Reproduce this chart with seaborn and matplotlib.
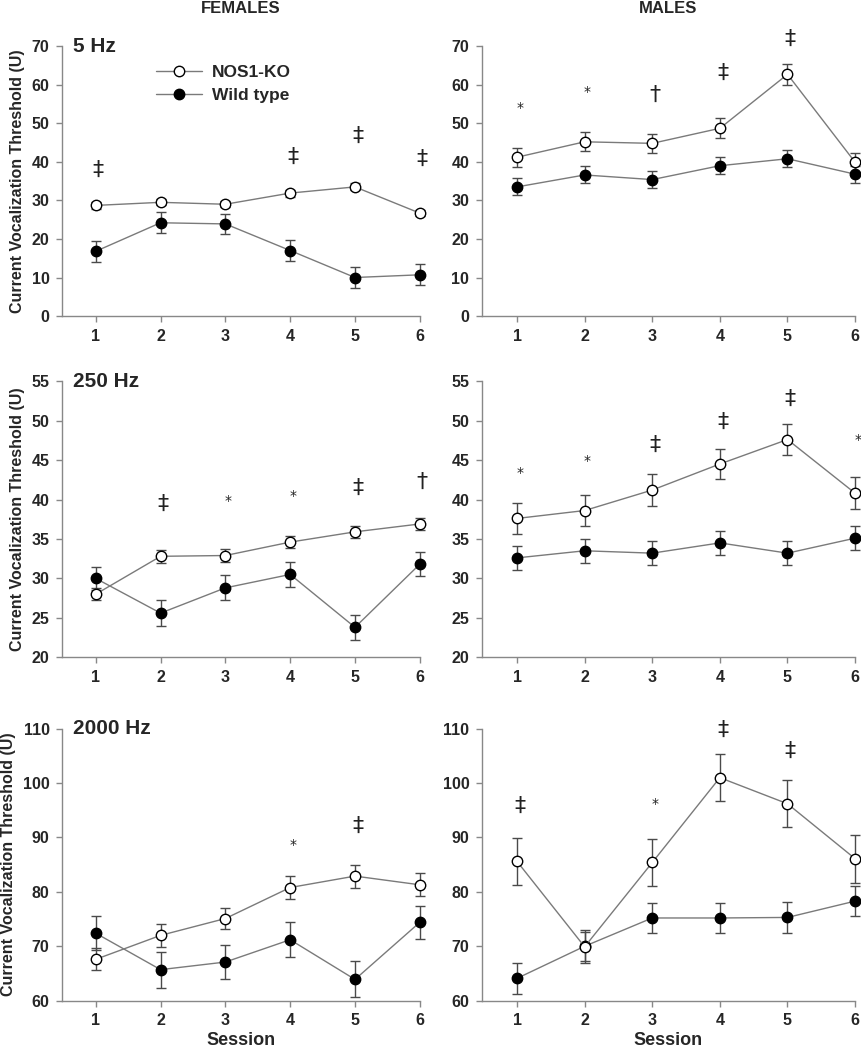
import numpy as np
import pandas as pd
import matplotlib
matplotlib.use("Agg")
import matplotlib.pyplot as plt
import seaborn as sns

# sessions
sessions = [1, 2, 3, 4, 5, 6]

# 5 Hz
f5_ko = [28.7, 29.5, 29.0, 31.9, 33.5, 26.7]
f5_ko_err = [0.9, 0.8, 0.8, 0.9, 0.9, 0.8]
f5_wt = [16.8, 24.2, 23.9, 17.0, 10.0, 10.7]
f5_wt_err = [2.7, 2.7, 2.7, 2.7, 2.7, 2.7]
f5_sig = ["‡", "", "", "‡", "‡", "‡"]
f5_sig_y = [38.0, 0, 0, 41.3, 46.7, 40.7]

m5_ko = [41.2, 45.2, 44.8, 48.7, 62.7, 39.9]
m5_ko_err = [2.5, 2.5, 2.5, 2.6, 2.7, 2.5]
m5_wt = [33.5, 36.6, 35.4, 39.0, 40.8, 36.8]
m5_wt_err = [2.2, 2.2, 2.2, 2.2, 2.2, 2.2]
m5_sig = ["*", "*", "†", "‡", "‡", ""]
m5_sig_y = [54.0, 58.0, 57.5, 63.0, 72.0, 0]

# 250 Hz
f250_ko = [28.0, 32.8, 32.9, 34.6, 35.9, 36.9]
f250_ko_err = [0.8, 0.8, 0.8, 0.8, 0.8, 0.8]
f250_wt = [30.0, 25.6, 28.8, 30.5, 23.8, 31.8]
f250_wt_err = [1.5, 1.6, 1.6, 1.6, 1.6, 1.5]
f250_sig = ["", "‡", "*", "*", "‡", "†"]
f250_sig_y = [0, 39.4, 39.8, 40.5, 41.5, 42.2]

m250_ko = [37.6, 38.6, 41.2, 44.5, 47.6, 40.8]
m250_ko_err = [2.0, 2.0, 2.0, 1.9, 2.0, 2.0]
m250_wt = [32.6, 33.5, 33.2, 34.5, 33.2, 35.1]
m250_wt_err = [1.5, 1.5, 1.5, 1.5, 1.5, 1.5]
m250_sig = ["*", "*", "‡", "‡", "‡", "*"]
m250_sig_y = [43.3, 44.9, 46.9, 49.8, 52.7, 47.6]

# 2000 Hz
f2000_ko = [67.6, 72.0, 75.1, 80.8, 82.9, 81.3]
f2000_ko_err = [2.0, 2.1, 2.0, 2.1, 2.1, 2.1]
f2000_wt = [72.4, 65.7, 67.1, 71.2, 63.9, 74.4]
f2000_wt_err = [3.1, 3.3, 3.2, 3.2, 3.3, 3.0]
f2000_sig = ["", "", "", "*", "‡", ""]
f2000_sig_y = [0, 0, 0, 88.7, 92.2, 0]

m2000_ko = [85.6, 69.9, 85.4, 101.0, 96.2, 86.1]
m2000_ko_err = [4.3, 2.7, 4.4, 4.3, 4.3, 4.4]
m2000_wt = [64.1, 70.0, 75.2, 75.2, 75.3, 78.3]
m2000_wt_err = [2.8, 3.0, 2.8, 2.8, 2.8, 2.8]
m2000_sig = ["‡", "", "*", "‡", "‡", ""]
m2000_sig_y = [95.8, 0, 96.2, 109.7, 106.0, 0]

freq_labels = ["5 Hz", "250 Hz", "2000 Hz"]
y_limits = [(0, 70), (20, 55), (60, 110)]
y_steps = [10, 5, 10]

sns.set_style("ticks")
plt.rcParams["font.family"] = ["Liberation Sans", "DejaVu Sans"]
plt.rcParams["font.weight"] = "bold"

fig = plt.figure(figsize=(8.62, 10.5), dpi=100)

rows = [
    (f5_ko, f5_ko_err, f5_wt, f5_wt_err, f5_sig, f5_sig_y,
     m5_ko, m5_ko_err, m5_wt, m5_wt_err, m5_sig, m5_sig_y),
    (f250_ko, f250_ko_err, f250_wt, f250_wt_err, f250_sig, f250_sig_y,
     m250_ko, m250_ko_err, m250_wt, m250_wt_err, m250_sig, m250_sig_y),
    (f2000_ko, f2000_ko_err, f2000_wt, f2000_wt_err, f2000_sig, f2000_sig_y,
     m2000_ko, m2000_ko_err, m2000_wt, m2000_wt_err, m2000_sig, m2000_sig_y),
]
row_bottoms = [0.699, 0.374, 0.047]
row_heights = [0.257, 0.263, 0.259]
col_lefts = [0.072, 0.559]
col_widths = [0.415, 0.433]

line_col = "#7a7a7a"
err_col = "#4a4a4a"


def draw_panel(ax, ko, ko_err, wt, wt_err, sig, sig_y, ylim, step, legend=False):
    df = pd.DataFrame({
        "session": sessions * 2,
        "value": list(ko) + list(wt),
        "err": list(ko_err) + list(wt_err),
        "group": ["NOS1-KO"] * 6 + ["Wild type"] * 6,
    })
    for grp, face in [("Wild type", "black"), ("NOS1-KO", "white")]:
        d = df[df["group"] == grp]
        ax.errorbar(d["session"], d["value"], yerr=d["err"], fmt="none",
                    ecolor=err_col, elinewidth=1, capsize=3.5, capthick=1,
                    zorder=2, clip_on=False)
        sns.lineplot(data=d, x="session", y="value", ax=ax, color=line_col,
                     linewidth=1, marker="o", markersize=7.5,
                     markerfacecolor=face, markeredgecolor="black",
                     markeredgewidth=1, label=grp, zorder=3, clip_on=False,
                     legend=False)
    # significance marks
    for s, lab, yy in zip(sessions, sig, sig_y):
        if lab:
            fs = 10 if lab == "*" else 16
            ax.text(s + 0.04, yy, lab, ha="center", va="center",
                    fontsize=fs, fontweight="normal", color="#222222",
                    clip_on=False, family=["DejaVu Sans"])
    ax.set_xlim(0.48, 6.0)
    ax.set_ylim(*ylim)
    ax.set_xticks(sessions)
    ax.set_yticks(np.arange(ylim[0], ylim[1] + 0.1, step))
    ax.tick_params(axis="both", direction="out", length=4, width=1,
                   color="#888888", labelsize=11.5, pad=5)
    for lbl in ax.get_xticklabels() + ax.get_yticklabels():
        lbl.set_fontweight("bold")
    sns.despine(ax=ax)
    for sp in ["left", "bottom"]:
        ax.spines[sp].set_color("#888888")
        ax.spines[sp].set_linewidth(1)
    ax.set_xlabel("")
    ax.set_ylabel("")
    if legend:
        handles = [
            plt.Line2D([], [], color=line_col, lw=1, marker="o", ms=7.5,
                       mfc="white", mec="black"),
            plt.Line2D([], [], color=line_col, lw=1, marker="o", ms=7.5,
                       mfc="black", mec="black"),
        ]
        ax.legend(handles, ["NOS1-KO", "Wild type"], loc="upper left",
                  bbox_to_anchor=(0.22, 0.99), frameon=False,
                  prop={"size": 12.5, "weight": "bold"}, handlelength=2.6,
                  handletextpad=0.6, labelspacing=0.45)


for r, data in enumerate(rows):
    for c in range(2):
        ax = fig.add_axes([col_lefts[c], row_bottoms[r], col_widths[c], row_heights[r]])
        part = data[c * 6:(c + 1) * 6]
        draw_panel(ax, *part, y_limits[r], y_steps[r], legend=(r == 0 and c == 0))
        if c == 0:
            ax.set_ylabel("Current Vocalization Threshold (U)", fontsize=11.5,
                          fontweight="bold", labelpad=5)
            ax.text(0.03, 1.0, freq_labels[r], transform=ax.transAxes,
                    fontsize=15, fontweight="bold", ha="left", va="center")
        if r == 0:
            ax.set_title("FEMALES" if c == 0 else "MALES", fontsize=12,
                         fontweight="bold", pad=24)
        if r == 2:
            ax.set_xlabel("Session", fontsize=13, fontweight="bold", labelpad=3)

fig.savefig("out.png", dpi=100)
